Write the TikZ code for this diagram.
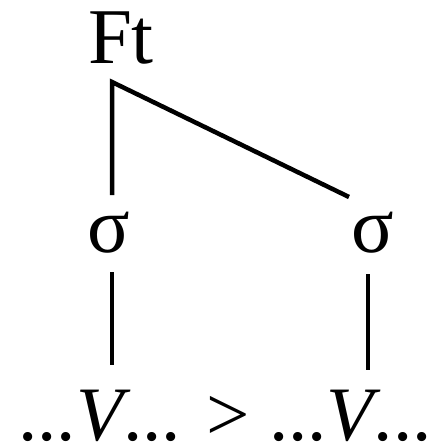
\documentclass[tikz,border=0pt]{standalone}
\usepackage{fontspec}
\setmainfont{Liberation Serif}
\usetikzlibrary{calc}

\begin{document}
\begin{tikzpicture}[
        x={(1pt,0)}, y={(0,-1pt)},
        lab/.style = {inner sep=0pt, anchor=base, font=\fontsize{79}{90}\selectfont},
        edge/.style = {draw=black, line width=4.5pt, line join=miter}
    ]
        \useasboundingbox (0,0) rectangle (445,447);

        % === Nodes ===
        \node (ft) [lab] at (121,63) {Ft};
        \coordinate (apex) at (112,82);
        \node (sigL) [lab] at (109,252) {σ};
        \node (sigR) [lab] at (373,252) {σ};
        \node (chain) [lab, font=\fontsize{77}{90}\selectfont] at (225,440) {...\textit{V}... > ...\textit{V}...};

        % === Lines ===
        \draw [edge] ($(sigL.base)+(3,-57)$) -- (apex) -- ($(sigR.base)+(-24,-55)$);
        \draw [edge] ($(sigL.base)+(3,20)$) -- ($(sigL.base)+(3,113)$);
        \draw [edge] ($(sigR.base)+(-5,22)$) -- ($(sigR.base)+(-5,118)$);
\end{tikzpicture}
\end{document}
